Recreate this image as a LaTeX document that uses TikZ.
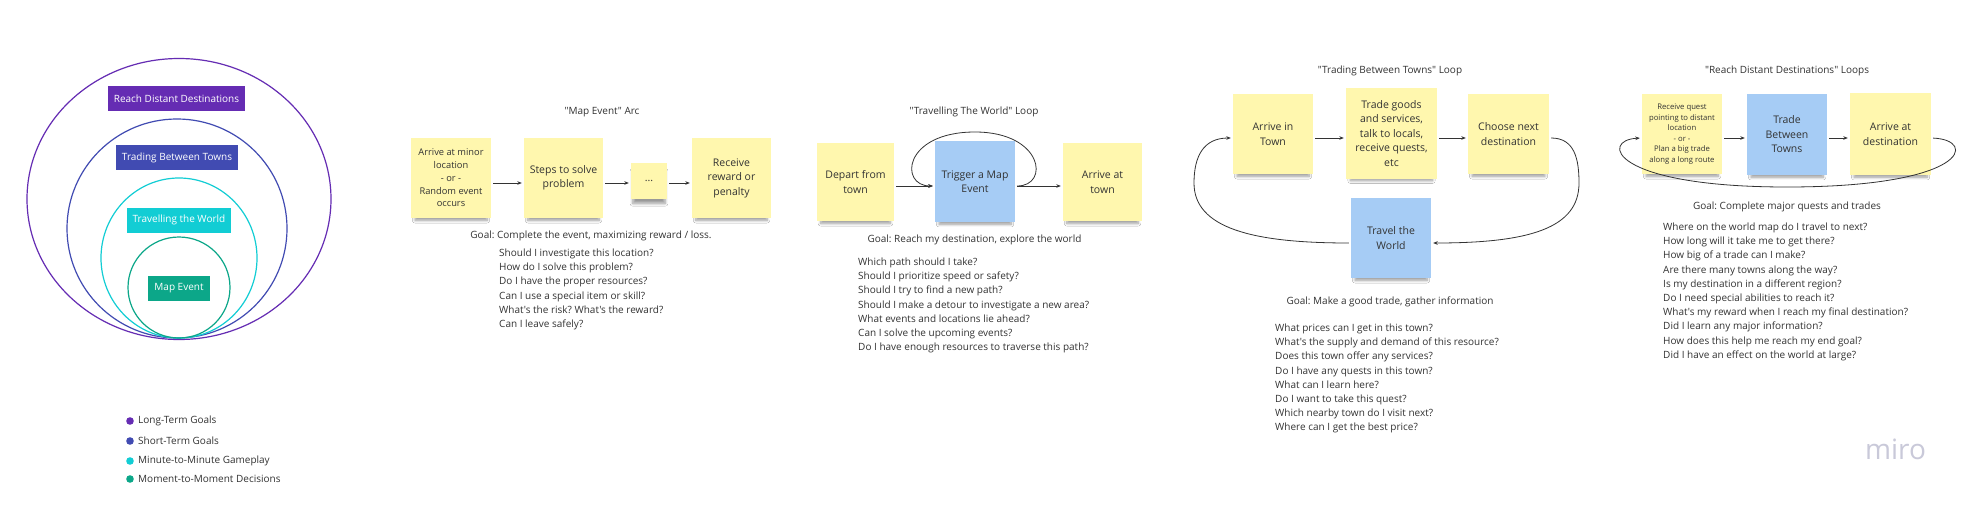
\documentclass[tikz,border=0pt]{standalone}
\usepackage{fontspec}
\setmainfont{Open Sans}[Ligatures=TeXOff]
\usetikzlibrary{arrows.meta,shadows.blur}
\definecolor{cpurple}{HTML}{652CB3}
\definecolor{cindigo}{HTML}{414BB2}
\definecolor{ccyan}{HTML}{12CDD4}
\definecolor{cgreen}{HTML}{0CA789}
\definecolor{cyellow}{HTML}{FFF7AE}
\definecolor{cblue}{HTML}{A6CCF5}
\definecolor{ink}{HTML}{333333}
\definecolor{cmiro}{HTML}{C9C9D9}
\frenchspacing
\begin{document}
\begin{tikzpicture}[x=1pt,y=-1pt,
  every node/.style={text=ink, font=\fontsize{10}{14.2}\selectfont},
  stickynote/.style={fill=cyellow, inner sep=0pt, align=center,
    minimum width=80pt, minimum height=80pt,
    font=\fontsize{10.5}{14.5}\selectfont,
    blur shadow={shadow xshift=0pt, shadow yshift=-7pt, shadow scale=0.9, shadow opacity=40, shadow blur steps=8, shadow blur radius=3pt}},
  bluenote/.style={stickynote, fill=cblue},
  lbl/.style={fill=#1, text=white, minimum height=25pt, inner xsep=6pt, inner ysep=0pt, font=\fontsize{10}{12}\selectfont},
  ring/.style={draw=#1, line width=1.2pt},
  legdot/.style={circle, fill=#1, inner sep=0pt, minimum size=7.6pt},
  conn/.style={draw=ink, line width=0.8pt, shorten <=2pt, shorten >=2pt, -{Stealth[length=4.5pt,width=3.6pt]}},
  qlist/.style={anchor=base west, align=left, inner sep=0pt, font=\fontsize{10}{14.2}\selectfont},
  plain/.style={inner sep=0pt},
]
\useasboundingbox[fill=white] (0,0) rectangle (1972,506);

% ---------- nested rings ----------
\draw[ring=cpurple] (179,199) ellipse [x radius=152pt, y radius=140.5pt];
\draw[ring=cindigo] (177,228.5) ellipse [x radius=110pt, y radius=109.5pt];
\draw[ring=ccyan] (179,258) ellipse [x radius=78pt, y radius=80pt];
\draw[ring=cgreen] (179,287.5) ellipse [x radius=51pt, y radius=50.5pt];
\node[lbl=cpurple] (lrd) at (176.5,98.5) {Reach Distant Destinations};
\node[lbl=cindigo] (ltb) at (177,157.5) {Trading Between Towns};
\node[lbl=ccyan] (ltw) at (179,220) {Travelling the World};
\node[lbl=cgreen] (lme) at (179,288) {Map Event};

% ---------- legend ----------
\node[legdot=cpurple] (d1) at (130,421) {};
\node[legdot=cindigo] (d2) at (130,441) {};
\node[legdot=ccyan] (d3) at (130,461) {};
\node[legdot=cgreen] (d4) at (130,479) {};
\node[plain, anchor=west] (t1l) at (138,421) {Long-Term Goals};
\node[plain, anchor=west] (t2l) at (138,441) {Short-Term Goals};
\node[plain, anchor=west] (t3l) at (138,461) {Minute-to-Minute Gameplay};
\node[plain, anchor=west] (t4l) at (138,479) {Moment-to-Moment Decisions};

% ---------- "Map Event" Arc ----------
\node[plain] (mtitle) at (602,112) {"Map Event" Arc};
\node[stickynote, font=\fontsize{9.3}{12.7}\selectfont] (m1) at (451,178) {Arrive at minor\\location\\- or -\\Random event\\occurs};
\node[stickynote, minimum width=79pt] (m2) at (563.5,178) {Steps to solve\\problem};
\node[stickynote, minimum width=36pt, minimum height=36pt] (m3) at (649,181) {...};
\node[stickynote, minimum width=79pt] (m4) at (731.5,178) {Receive\\reward or\\penalty};
\coordinate (rowM) at (0,183);
\draw[conn] (m1.east |- rowM) -- (m2.west |- rowM);
\draw[conn] (m2.east |- rowM) -- (m3.west |- rowM);
\draw[conn] (m3.east |- rowM) -- (m4.west |- rowM);
\node[plain] (mgoal) at (591,236) {Goal: Complete the event, maximizing reward / loss.};
\node[qlist] (mq) at (499,327.5) {Should I investigate this location?\\How do I solve this problem?\\Do I have the proper resources?\\Can I use a special item or skill?\\What's the risk? What's the reward?\\Can I leave safely?};

% ---------- "Travelling The World" Loop ----------
\node[plain] (ttitle) at (974,112) {"Travelling The World" Loop};
\node[stickynote, minimum width=77pt, minimum height=78pt] (tn1) at (855.5,182) {Depart from\\town};
\node[bluenote, minimum height=81pt] (tn2) at (975,181.5) {Trigger a Map\\Event};
\node[stickynote, minimum width=79pt, minimum height=78pt] (tn3) at (1102.5,182) {Arrive at\\town};
\coordinate (rowT) at (0,186);
\draw[conn] (tn1.east |- rowT) -- (tn2.west |- rowT);
\draw[conn] (tn2.east |- rowT) .. controls (1050,186) and (1043,132) .. (975,132) .. controls (903,132) and (899,186) .. (tn2.west |- rowT);
\draw[conn] (tn2.east |- rowT) -- (tn3.west |- rowT);
\node[plain] (tgoal) at (974.5,240) {Goal: Reach my destination, explore the world};
\node[qlist] (tq) at (858,350.7) {Which path should I take?\\Should I prioritize speed or safety?\\Should I try to find a new path?\\Should I make a detour to investigate a new area?\\What events and locations lie ahead?\\Can I solve the upcoming events?\\Do I have enough resources to traverse this path?};

% ---------- "Trading Between Towns" Loop ----------
\node[plain] (atitle) at (1390,71) {"Trading Between Towns" Loop};
\node[stickynote] (a1) at (1273,134) {Arrive in\\Town};
\node[stickynote, minimum width=91pt, minimum height=91pt] (a2) at (1391.5,133.5) {Trade goods\\and services,\\talk to locals,\\receive quests,\\etc};
\node[stickynote, minimum width=81pt] (a3) at (1508.5,134) {Choose next\\destination};
\node[bluenote] (a4) at (1391,238) {Travel the\\World};
\coordinate (rowA) at (0,138);
\coordinate (rowB) at (0,243);
\draw[conn] (a1.east |- rowA) -- (a2.west |- rowA);
\draw[conn] (a2.east |- rowA) -- (a3.west |- rowA);
\draw[conn] (a3.east |- rowA) .. controls (1575,138) and (1579,160) .. (1579,183) .. controls (1579,228) and (1530,243) .. (a4.east |- rowB);
\draw[conn] (a4.west |- rowB) .. controls (1252,243) and (1194,228) .. (1194,183) .. controls (1194,157) and (1203,138) .. (a1.west |- rowA);
\node[plain] (agoal) at (1390,302) {Goal: Make a good trade, gather information};
\node[qlist] (aq) at (1275,430.9) {What prices can I get in this town?\\What's the supply and demand of this resource?\\Does this town offer any services?\\Do I have any quests in this town?\\What can I learn here?\\Do I want to take this quest?\\Which nearby town do I visit next?\\Where can I get the best price?};

% ---------- "Reach Distant Destinations" Loops ----------
\node[plain] (rtitle) at (1787,71) {"Reach Distant Destinations" Loops};
\node[stickynote, font=\fontsize{7.7}{10.5}\selectfont] (r1) at (1682,134) {Receive quest\\pointing to distant\\location\\- or -\\Plan a big trade\\along a long route};
\node[bluenote, minimum height=81pt] (r2) at (1787,134.5) {Trade\\Between\\Towns};
\node[stickynote, minimum width=81pt, minimum height=82pt] (r3) at (1890.5,134) {Arrive at\\destination};
\coordinate (rowR) at (0,138);
\draw[conn] (r1.east |- rowR) -- (r2.west |- rowR);
\draw[conn] (r2.east |- rowR) -- (r3.west |- rowR);
\draw[conn] (r3.east |- rowR) .. controls (1978,140) and (1968,187) .. (1787,187) .. controls (1610,187) and (1600,140) .. (r1.west |- rowR);
\node[plain] (rgoal) at (1787,207) {Goal: Complete major quests and trades};
\node[qlist] (rq) at (1663,358.3) {Where on the world map do I travel to next?\\How long will it take me to get there?\\How big of a trade can I make?\\Are there many towns along the way?\\Is my destination in a different region?\\Do I need special abilities to reach it?\\What's my reward when I reach my final destination?\\Did I learn any major information?\\How does this help me reach my end goal?\\Did I have an effect on the world at large?};

% ---------- logo ----------
\node[plain, text=cmiro, font=\fontsize{28}{30}\selectfont] (logo) at (1895.5,449) {miro};
\end{tikzpicture}
\end{document}
